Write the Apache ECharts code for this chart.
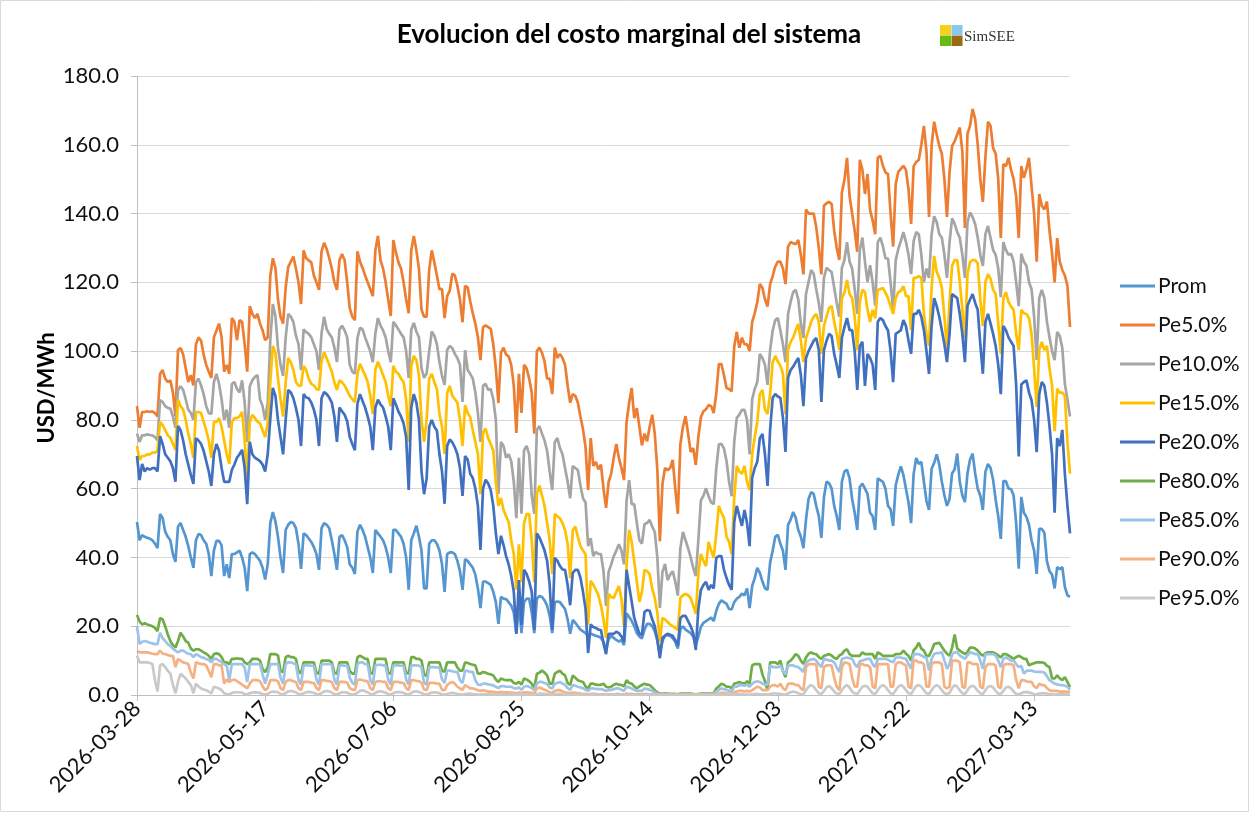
<!DOCTYPE html>
<html>
<head>
<meta charset="utf-8">
<title>Evolucion del costo marginal del sistema</title>
<script src="https://cdn.jsdelivr.net/npm/echarts@6/dist/echarts.min.js"></script>
<style>
  html, body { margin: 0; padding: 0; background: #fff; }
  #chart { width: 1250px; height: 813px; }
</style>
</head>
<body>
<div id="chart"></div>
<script>
// daily values, one row per week (Sat..Fri), starting 2026-03-28
var startDate = '2026-03-28';
var dayCount = 365;
var seriesNames = ['Prom', 'Pe5.0%', 'Pe10.0%', 'Pe15.0%', 'Pe20.0%', 'Pe80.0%', 'Pe85.0%', 'Pe90.0%', 'Pe95.0%'];
var seriesColors = ['#5596D0', '#ED7D31', '#A5A5A5', '#FFC000', '#4170C0', '#70AD47', '#9DC3E6', '#F4B183', '#C9C9C9'];
var yTicks = [0, 20, 40, 60, 80, 100, 120, 140, 160, 180];

var prom = [
  50.3, 45, 46.5, 46, 45.7, 45.5, 45,
  44, 42.7, 52.6, 51.5, 47.5, 46, 45,
  41, 38.7, 49, 50, 48, 46, 43.3,
  40, 37, 45, 46.8, 46.5, 45, 44,
  41, 34.6, 42, 44.8, 44.8, 43.5, 34.6,
  38, 34, 41, 41, 41.5, 42, 40,
  37, 30.2, 41, 41.5, 41, 40, 39,
  37, 33.6, 38, 50, 53.2, 50.5, 46,
  40, 35.5, 48, 49.5, 50.3, 50, 48.5,
  44, 36.7, 47, 46.5, 45.5, 44.5, 43,
  41, 36.4, 48.5, 50, 49.5, 48.5, 45,
  41, 36.4, 46, 46.5, 45, 43, 38,
  37, 35.2, 47.5, 49.5, 48, 46, 43,
  40, 35.5, 48, 47, 46, 45, 43,
  40, 35.5, 48, 48, 47, 46, 44,
  40, 30.6, 45, 47, 49.2, 46, 42,
  31, 31, 44, 45, 45, 44, 42,
  38, 30, 41, 41.5, 41.5, 41, 39,
  36, 30.6, 39.5, 39, 38, 37, 35,
  31, 25.3, 33, 33, 32.5, 32, 30,
  27, 20.7, 28.5, 28, 27.9, 27, 26,
  24, 17.8, 27, 18, 27, 28, 28,
  24, 18, 28, 28.8, 28.5, 27.5, 26,
  23, 18, 27, 27.2, 27, 26, 25,
  22, 17.8, 21.8, 21, 20, 19, 18.5,
  18, 17.4, 17.8, 17.5, 17.2, 17, 16.6,
  15.5, 13.1, 16.2, 17.2, 16.6, 16, 15.5,
  16, 14.5, 23.8, 22.7, 21.5, 20, 18,
  17, 16.5, 19, 20.7, 20.7, 20, 18.5,
  16, 12.2, 15.6, 17.4, 17.4, 17.2, 16.5,
  15.5, 13.5, 19.2, 20, 19, 18.5, 18,
  17, 14.5, 17, 19.8, 21, 21.5, 22,
  22.5, 21.5, 24.5, 26.5, 27.5, 27, 26.5,
  25, 24.9, 27, 28, 28.5, 29.5, 29,
  31, 25.3, 31.7, 34, 37, 35.5, 33,
  31, 30.6, 38.5, 42, 46, 46.6, 44,
  42, 36.4, 49.5, 51, 53.2, 51.5, 48,
  46, 42.7, 51, 57, 59, 58.5, 55,
  52, 45.7, 57.5, 62, 61.6, 60, 55,
  52, 48, 62, 65, 65.5, 63, 57,
  53, 48, 60.5, 61.5, 60, 58.5, 53,
  52, 48, 63, 62.5, 62, 60, 55,
  54, 49.2, 61, 64, 66.5, 64, 60,
  56, 50, 64.3, 68.9, 67.2, 67.8, 62,
  56.4, 53.8, 65.8, 67.5, 70, 67, 62,
  58, 55, 57, 64.5, 65.6, 70.2, 62,
  58, 56.1, 64.5, 68.5, 70.2, 64.5, 60,
  58, 53.8, 64.9, 67.2, 66, 62.6, 56.8,
  52, 45.4, 62.2, 62.2, 60, 59.9, 58,
  50, 36.7, 57.6, 53, 51.8, 49.5, 45,
  42, 35.2, 48.3, 48.3, 47.2, 38.9, 36,
  35, 31, 37.2, 36.6, 37.2, 31.4, 29,
  28.5
];

var pe5 = [
  84, 77.7, 82.3, 82.3, 82.5, 82.3, 82.5,
  82, 81, 93.4, 94.5, 92, 91, 91.5,
  88, 81.1, 100.3, 100.9, 99, 95, 91,
  93, 90, 102, 104, 103, 99, 96,
  94, 92.2, 104, 106, 108, 104, 94,
  96, 93.4, 109.6, 108.5, 103.2, 109, 108.5,
  102, 94, 113.1, 110.8, 109.6, 110.8, 108,
  106, 103.2, 104, 121.8, 127, 124.2, 115,
  110, 108, 118.5, 124.5, 126, 127.5, 124,
  120, 113.7, 129.3, 127, 126.4, 125.8, 122,
  120, 117.8, 129, 131.5, 129.7, 127, 124,
  120, 117.8, 126.5, 128.2, 126.5, 120, 112.5,
  110, 109, 129, 126, 124.2, 122, 120,
  118, 116, 129.3, 133.5, 126.4, 124, 120,
  115, 110.2, 132.3, 128.8, 125.8, 124, 120,
  115, 111, 129.3, 133.5, 129.3, 124, 112,
  110, 110, 123.7, 129.3, 125.8, 122, 118,
  118, 109.6, 116, 117.5, 122.5, 122, 119,
  115, 108.4, 119, 118.5, 114.5, 111, 108,
  104, 97.4, 107, 107.5, 107, 106.5, 102,
  95, 84.9, 99.5, 101, 99, 98.5, 96,
  90, 76.2, 93.4, 82, 96, 95, 92,
  88, 76, 100, 101, 99.5, 97, 92,
  92, 87.5, 101, 98, 99.2, 98, 96,
  90, 85, 87.5, 87, 85, 81, 77.3,
  72, 59.6, 74.7, 66.6, 67.8, 65.6, 67,
  60, 54.4, 62, 64.3, 69, 73, 69,
  66, 62.5, 79.4, 85, 89.3, 80.5, 83.4,
  78, 72.6, 76, 73.8, 78, 81.5, 76,
  65.5, 44.7, 61.4, 66, 65.4, 66, 68.4,
  60, 52.7, 73, 78, 81.1, 76, 70.7,
  71.8, 66.9, 75, 80.8, 82.5, 83.1, 84.3,
  84, 82, 87.8, 96.2, 96.2, 93, 89.3,
  89, 88.3, 101.3, 105.6, 101, 103.9, 102,
  102, 100, 108.5, 111, 114.3, 119.5, 118.4,
  115, 113, 119.5, 121.8, 124.6, 126, 126,
  124, 119.5, 130.4, 131.7, 131.4, 131.1, 132.3,
  128, 122.3, 141.2, 140, 140, 140, 136,
  130, 122.3, 142.3, 143, 143.4, 142.8, 135,
  130, 126.5, 146.1, 149.8, 156.2, 145.1, 140,
  135, 128.9, 155.6, 152.7, 145.7, 151.5, 141,
  138, 134, 156.2, 156.8, 153.9, 152, 151.5,
  140, 130.4, 148.6, 152.1, 153, 153.9, 152.7,
  147, 137, 153.8, 155, 155.6, 160, 165.5,
  158, 139, 159.7, 166.7, 163, 159.7, 157.4,
  150, 139, 152, 159.7, 161, 163, 165,
  158, 135.8, 163.2, 165.5, 170.4, 167.5, 160,
  150, 143.4, 156.4, 166.7, 165.5, 159.1, 157.4,
  150, 132.9, 154.4, 153.8, 156.2, 152.7, 150,
  145, 132.9, 153.8, 150.4, 153, 156.2, 148,
  140, 126, 145.7, 142.3, 141.2, 143.5, 135,
  128.5, 120, 132.9, 126, 123.6, 122, 119,
  107
];

var pe10 = [
  76, 73.6, 75.5, 75.5, 75.8, 75.6, 75.5,
  75, 74, 85.8, 85.2, 84, 83.5, 83.3,
  81, 77.7, 88.7, 89.8, 88.7, 86, 83,
  82, 80, 91, 92, 90, 87.5, 84,
  82, 81.7, 91, 93.4, 90.5, 86, 80,
  83, 77.7, 90.4, 91, 89, 88, 91.5,
  85, 73.6, 89.8, 91.5, 92.5, 93, 86,
  84, 80, 85, 103.2, 113.7, 110.2, 101,
  96, 92.8, 104, 110.8, 110, 108.5, 104.5,
  102, 94.5, 106.3, 105.5, 105, 104, 102,
  100, 94.5, 105.2, 110, 106.4, 105, 104,
  101, 96.8, 106.3, 107.4, 106, 104, 96,
  94, 93.4, 103.8, 106.8, 106.3, 104, 102,
  100, 96.8, 105.2, 109.6, 107.4, 106, 104,
  100, 96.8, 108.5, 107.5, 106.3, 105, 104,
  100, 92.2, 106.3, 108.2, 105.7, 104, 95,
  92.2, 93.5, 100, 105.7, 104.5, 102, 96.8,
  92.8, 90.2, 100.3, 101.5, 100.9, 99.2, 98,
  96, 85.2, 100.3, 94.5, 93.4, 92, 88,
  82, 73.6, 89.9, 90.5, 88.7, 89, 86,
  80, 58.4, 73.6, 72.4, 69, 70, 68,
  62, 51.4, 69, 52.7, 71.2, 72.4, 70,
  58, 52.7, 77.1, 78.2, 76, 74, 71,
  65, 59.6, 73.6, 74.7, 71.8, 70, 66,
  62, 57.2, 66.6, 66, 65.4, 61, 57.2,
  56, 43.3, 45.6, 40.4, 41.6, 41, 41,
  36, 25.9, 35.8, 38, 40.4, 42, 43.8,
  42, 38, 56.6, 62.5, 55.5, 55.5, 50,
  45, 44, 49.7, 50, 50.9, 49, 47.4,
  40, 25.3, 35.8, 38.1, 33.4, 35, 36,
  33, 28.9, 42.7, 47.4, 45, 42.7, 40,
  37, 34.6, 45, 56.6, 58, 60.1, 57.8,
  56, 55.5, 66, 72.9, 73, 71.7, 68,
  62, 57.8, 73.6, 80.6, 81.5, 82.9, 82.9,
  80, 70, 86, 89, 91, 99.2, 98,
  96, 90.2, 100.3, 106, 109, 109.6, 106,
  102, 96.8, 110.8, 114.3, 117.2, 117.8, 115,
  108, 103.8, 116.6, 120.1, 123.6, 122.5, 118,
  114, 108.5, 121.3, 124.2, 123.6, 123, 118.5,
  114, 110, 124.2, 126.5, 131.7, 126, 124,
  118, 110.8, 129.4, 133, 126, 120.1, 125,
  120, 113.2, 131.7, 133, 130.5, 127, 126.9,
  120, 112, 126.4, 129.7, 132, 134.6, 131.7,
  128, 122.4, 132, 134.6, 134, 128, 120,
  124, 121.3, 133.9, 139.2, 137.5, 134, 133,
  128, 121.3, 131.7, 138.6, 137, 134.6, 133,
  128, 121.3, 137.5, 140.3, 139, 136.9, 133,
  128, 124.8, 134, 136.4, 132.9, 129.4, 128,
  124, 115.7, 131.7, 129.4, 128, 128.3, 126,
  120, 113.1, 128.3, 126, 124.8, 120.1, 118,
  110, 97.4, 115.4, 117.8, 115.4, 108.5, 104,
  100, 97.4, 105.6, 104.4, 100.9, 90.4, 86,
  81
];

var pe15 = [
  72.4, 68.3, 69.5, 69.5, 70, 70, 70.5,
  70.5, 71, 79.4, 78.5, 77, 75.5, 74.8,
  73, 71.3, 85.8, 84, 83, 80, 76,
  73, 69, 82.3, 82.3, 82, 79.5, 77,
  74, 69, 79.4, 79.4, 80.5, 78, 74,
  70, 67.2, 79.4, 80.5, 80.5, 81, 82.3,
  74, 63.1, 79.4, 81.5, 80.5, 79.5, 79,
  77, 75, 79, 91, 101.5, 99.5, 92,
  86, 81, 91, 98, 96.8, 94.5, 91,
  90, 89.9, 95.7, 94.5, 92, 90.5, 90,
  89, 88.7, 97, 99.7, 97.9, 96, 94,
  91, 88.7, 91.5, 90.9, 90, 88.5, 87,
  86, 85.2, 93.4, 96.3, 94.6, 93, 91,
  87, 81.7, 94.6, 96.9, 95, 93, 91,
  87, 84, 95.7, 94, 93.4, 92, 91,
  86, 73.6, 95.7, 98.6, 97.4, 93, 80,
  73.6, 80, 92, 93.4, 91, 89, 81.7,
  78, 70.1, 87.8, 89.9, 87, 86, 85,
  80, 72.4, 84.3, 82, 80.8, 77, 73.6,
  70, 58.4, 76.2, 77.5, 74.7, 73, 71,
  62, 55, 57.3, 53.8, 52, 50.3, 45,
  41, 30.6, 43.8, 32.8, 50, 52.6, 52.6,
  45, 32.8, 58.4, 60.9, 58, 55, 50,
  45, 35.2, 52.6, 52, 51.4, 50, 47.9,
  44, 34, 47.9, 49, 46, 43.3, 42,
  40.9, 20.4, 33.2, 32.1, 30.6, 29, 26,
  22, 16.6, 29.4, 28.5, 28.2, 30, 31.7,
  28, 20, 37.5, 48, 44.5, 38.7, 33,
  27.1, 30, 36.4, 36, 35.2, 31, 28.2,
  24, 15.4, 22.4, 22, 21.2, 20.5, 20,
  19.5, 18.9, 28.2, 29, 29.4, 29, 28.2,
  26, 23.6, 35.2, 41, 39, 37.5, 44.5,
  42, 39.9, 47, 55, 53, 51.5, 46,
  44.5, 41, 57.3, 66.6, 65, 64.3, 66.6,
  62, 59.6, 70, 75, 79.4, 87.5, 88.7,
  83, 81.7, 87.5, 96.8, 98.6, 97, 95.7,
  93.4, 81.7, 100.3, 102.7, 104, 106.1, 107.9,
  103, 96.8, 103.8, 106, 108.5, 110, 110.8,
  108.5, 99.2, 107.3, 110, 112.6, 113.1, 108.5,
  105, 100.3, 115.4, 117, 120.7, 116.6, 115.4,
  110, 100.3, 114.3, 117.8, 117.2, 112, 108.5,
  112, 109.6, 117.8, 118, 118.4, 117, 115.4,
  113, 110.8, 115.4, 117.2, 117.5, 118.9, 116,
  116, 106.1, 121.3, 121.3, 121.8, 121.3, 110.8,
  105, 101.6, 118.4, 127.7, 123, 121.3, 118.4,
  110, 100.3, 114.3, 124.8, 126.5, 126.5, 120.1,
  112, 103.8, 122.4, 125.9, 126.5, 126.5, 125.5,
  115, 107.3, 120.1, 122.4, 121, 117.8, 116.6,
  108, 99.2, 115.4, 117.2, 114.3, 113, 112,
  105, 100.3, 112, 111, 110.8, 109.6, 105,
  95, 83.7, 100.3, 102.7, 100.3, 101.5, 95,
  90, 76.7, 89.1, 87.9, 87.9, 87, 73.6,
  64.4
];

var pe20 = [
  69.5, 62.5, 67.2, 65, 66, 65.5, 66,
  66, 65, 75.3, 73, 70, 69, 68,
  66, 62, 78.2, 77, 74, 70, 67,
  64, 61.4, 74.7, 74, 73, 71, 68,
  65, 60.8, 70, 73, 71, 66, 62,
  62, 62, 65.5, 67, 69, 70, 71.3,
  66, 55.5, 73.6, 70, 69, 68.5, 68,
  67, 65, 70, 80.2, 89.3, 87, 80,
  75, 70, 80, 88.7, 88, 86.3, 83.5,
  80, 72.4, 87.5, 86.5, 86.3, 85, 83,
  80, 72.4, 86.3, 88.1, 87.5, 86.5, 85,
  81, 73.6, 83.6, 82.5, 81.5, 79.6, 75,
  73, 71.2, 84.7, 87.5, 85.5, 83.6, 81,
  78, 71.2, 83.6, 85.9, 84.5, 83.6, 81,
  78, 71.2, 86.3, 84.5, 82.4, 81, 79,
  75, 59.6, 83.6, 87.5, 85, 80, 65,
  58.4, 63, 78, 80, 78, 76.9, 70,
  65, 55.6, 72.4, 74.3, 73.5, 72, 70,
  66, 57.9, 69.5, 68.5, 64.3, 63.1, 60,
  55, 42.2, 60, 62.6, 61.5, 59.6, 55,
  47, 41, 46.3, 43.6, 40.4, 38, 34.6,
  30, 17.8, 33.4, 20.4, 36.4, 35.2, 33,
  30, 19, 47, 45.8, 44, 42, 39,
  32, 19, 39.9, 39, 37.5, 36.5, 36.4,
  32, 26.1, 35.5, 36.4, 36.4, 34.1, 30,
  25, 12.2, 20.5, 19.8, 19.5, 19, 18.9,
  15, 11.9, 17.8, 17.8, 17.8, 18.4, 18,
  17, 15.4, 36.4, 31.7, 27.1, 22.4, 20,
  17.8, 17.5, 24.2, 24.7, 24.5, 22, 20,
  16, 10.7, 16.6, 17.2, 17.8, 17.5, 17.2,
  16, 14.3, 22.4, 23, 23, 21.5, 20,
  18, 13.1, 25, 30.6, 32, 32.9, 30.6,
  32, 31, 39.9, 40.4, 40.4, 36.4, 34,
  32, 30.6, 50.3, 55, 52, 49.2, 53.8,
  50, 43.3, 63.1, 66, 67.8, 74.7, 75.9,
  70, 60.8, 77.1, 86.4, 87.5, 86.8, 86.4,
  80.6, 70.7, 92.2, 94.5, 95.5, 96.8, 98,
  93, 84, 98, 100, 101.5, 103, 103.8,
  100.3, 85.2, 100.3, 103, 105, 104.4, 99.2,
  96, 92.2, 103.8, 107, 109.6, 106.1, 106.1,
  100, 88.7, 101.5, 102.7, 89.9, 99.2, 98,
  96, 88.7, 108.5, 109.6, 109, 107.3, 106,
  100, 91, 105, 105.5, 106.1, 109, 107.3,
  103, 99.2, 110.8, 110.8, 112, 110, 106.1,
  100, 93.4, 107.3, 115.4, 113.1, 110, 106.1,
  102, 96.8, 105, 116.6, 116, 115.4, 110.8,
  105, 96.8, 113.1, 115, 116.6, 114, 112,
  102, 93.4, 108.5, 110.8, 108, 105, 101.5,
  96, 87.5, 107.3, 106.1, 104, 102.7, 101.5,
  90, 69.4, 90.3, 91, 91.5, 88, 85.7,
  80, 70.6, 87.5, 91, 89.9, 85, 78.2,
  70, 53, 74.7, 72.4, 77.1, 64.3, 55,
  47
];

var pe80 = [
  23.3, 21.4, 20.5, 20.9, 20.5, 20.3, 20,
  19.5, 18.6, 22.4, 22, 20, 17.6, 15.7,
  14.5, 13.8, 15.7, 18.1, 17, 15.7, 15.2,
  13.5, 12.9, 13.3, 13.3, 12.9, 12.4, 12,
  11.4, 10.5, 11.9, 12.1, 11.9, 11, 9.5,
  9.5, 9, 10.5, 10.5, 10.7, 10.5, 10.5,
  9.5, 9, 9.5, 10.5, 10.5, 10.5, 10,
  7.5, 6.7, 8, 11.9, 11.9, 11.9, 11.5,
  7, 6.7, 11, 11.4, 11, 11, 10.5,
  7, 6.2, 9.5, 9.5, 9.5, 9.5, 9.5,
  6.5, 6.2, 10, 10, 10, 10, 9.5,
  6.5, 6.2, 9.5, 9.5, 9.5, 9.5, 7,
  6.2, 6.2, 11, 11.4, 11, 10.5, 10.5,
  6.5, 6.2, 10.5, 10.5, 10.5, 10.5, 10.5,
  6.5, 6.2, 9.5, 9.5, 9.5, 9.5, 9.5,
  6.5, 6.2, 11, 11, 10.5, 10.5, 10,
  6, 5.5, 9.5, 9.5, 9.5, 9.5, 9.5,
  7, 6.8, 9.5, 9.5, 9.5, 9.5, 8,
  7.1, 7.1, 9.5, 9.3, 9, 8.8, 8.6,
  6.2, 6.2, 6.7, 6.5, 6.2, 6, 5.7,
  4.5, 3.8, 4.8, 4.5, 4.3, 4.3, 4.3,
  3.5, 3.3, 3.8, 3, 4.8, 4.5, 4,
  3.3, 1.9, 6.2, 6.5, 7.1, 6.5, 5.7,
  3.3, 3.3, 6.2, 6.7, 7.1, 6.2, 5.7,
  3.5, 2.9, 5.7, 5, 4.3, 4, 3.8,
  2.5, 1.9, 3.3, 3.3, 3, 2.9, 3,
  3.3, 2.4, 2.2, 2.4, 3, 3.3, 3,
  2.9, 2.5, 4.3, 3.5, 3.3, 2.5, 1.9,
  2.5, 2.9, 3.3, 3, 2.9, 2.2, 1.4,
  0.7, 0.4, 0.4, 0.5, 0.4, 0.3, 0.3,
  0.3, 0.2, 0.4, 0.4, 0.5, 0.4, 0.4,
  0.3, 0.2, 0.3, 0.4, 0.4, 0.5, 0.4,
  0.4, 0.5, 1.9, 2.5, 3.3, 3, 2.4,
  2.4, 1.9, 3.3, 3.5, 3.8, 3.5, 3.3,
  4, 3.3, 8.6, 9, 9, 9, 6,
  4, 1.4, 9.5, 9.5, 9.5, 9, 10,
  7, 5.2, 9.5, 10, 10.9, 11.9, 11.4,
  10, 9, 10.9, 12, 12.4, 12, 11.9,
  11, 10.5, 11.4, 11.6, 11.9, 11.5, 10.8,
  10.5, 11.5, 11.9, 12.9, 13.3, 11.9, 11.4,
  11.4, 11.4, 11.4, 12.4, 11.9, 11.9, 11.9,
  11.9, 10.5, 12.4, 12, 11.4, 11.4, 11.4,
  11.4, 11.4, 11.9, 11.9, 12, 12.9, 12,
  11.4, 10, 13, 13.8, 15.2, 13.5, 12.9,
  11.4, 11.4, 12.9, 14.8, 15, 15.2, 14,
  12.9, 12, 11.4, 13.8, 17.6, 13.5, 12.9,
  12.4, 11.9, 12.5, 13.8, 13.8, 13.5, 12.9,
  12, 11.4, 12.2, 12.4, 12.4, 12.4, 12,
  11.5, 10.9, 11.9, 11.9, 11.5, 11, 10.5,
  11, 11.4, 11, 10.5, 10.5, 8.6, 9,
  9.2, 9.5, 9.5, 9.5, 9.3, 8.5, 8.1,
  4.8, 4.8, 5.7, 4.8, 4.3, 5.2, 3.8,
  2.2
];

var pe85 = [
  20, 14.8, 15.5, 15.7, 15.5, 15.2, 15,
  14.8, 14.8, 18.1, 16.5, 15.7, 14.8, 14.3,
  13.5, 12.9, 12.4, 12.9, 12.9, 12.4, 12,
  11.9, 11, 11.9, 11.5, 11, 10.8, 10.5,
  10.2, 9.5, 10.5, 10.5, 10, 9.5, 9,
  8.5, 4.3, 9, 9, 9, 9, 9,
  8, 3.8, 9, 9, 9, 9, 9,
  6, 3.3, 6, 9, 9, 9, 9,
  5, 3.3, 9, 9.5, 9.5, 9.2, 9,
  4.5, 3, 8.6, 8.6, 8.6, 8.5, 8.5,
  4.5, 3, 9, 9, 9, 9, 8.8,
  4.5, 3, 8.6, 8.6, 8.5, 8.5, 5,
  3.5, 3, 9, 9.5, 9.5, 9, 9,
  4.5, 3, 8.6, 8.8, 8.8, 8.6, 8.6,
  4.5, 3, 8.6, 8.6, 8.6, 8.5, 8.5,
  4.5, 3, 8.6, 8.6, 8.6, 8.5, 8.1,
  3.5, 3, 8.1, 8.1, 8.1, 8, 8,
  4.5, 3.5, 7.1, 7.1, 6.9, 6.7, 6.7,
  4.3, 3.5, 7.1, 7, 6.7, 6.7, 4.3,
  3, 2.9, 3.3, 3.3, 3.1, 3, 2.8,
  2.4, 2, 2.6, 2.6, 2.4, 2.4, 2.4,
  2, 1.9, 2.2, 1.5, 2.4, 2.6, 2.4,
  2, 1.5, 3.3, 3.8, 3.8, 3.5, 3.2,
  2.2, 1.9, 3.3, 3.5, 3.8, 3.3, 3,
  2, 1.5, 2.9, 2.7, 2.4, 2.2, 2,
  1.5, 1.2, 1.9, 1.9, 1.8, 1.7, 1.7,
  1.5, 1.2, 1.4, 1.5, 1.7, 1.9, 1.9,
  1.5, 1.2, 2.4, 2.2, 1.9, 1.5, 1.2,
  1.2, 1.2, 1.9, 1.7, 1.5, 1.2, 0.8,
  0.4, 0.3, 0.3, 0.3, 0.3, 0.2, 0.2,
  0.2, 0.1, 0.2, 0.3, 0.3, 0.3, 0.2,
  0.2, 0.1, 0.2, 0.2, 0.3, 0.3, 0.3,
  0.2, 0.3, 1, 1.5, 1.9, 1.7, 1.5,
  1.2, 1, 2.4, 2.4, 2.9, 2.9, 2.7,
  3, 2.4, 3.3, 3.8, 4, 3.8, 3.3,
  3, 3, 8.6, 8.1, 8.1, 8, 8.6,
  7, 6, 8.6, 8.6, 8.6, 8.3, 8.1,
  7.5, 6.7, 9.5, 10, 10.3, 10.5, 10,
  9, 8.1, 10.5, 10.3, 10, 10, 9.5,
  8, 6.7, 10.5, 10.7, 10.9, 10.7, 10.5,
  9, 8.1, 9.8, 10, 10.3, 10.5, 10.5,
  9, 8.1, 10.5, 10.5, 10.5, 10.5, 10.3,
  9.8, 9.5, 10.9, 10.9, 10.9, 10.7, 10.5,
  9, 7.6, 11.9, 11.9, 11.9, 11.5, 11,
  10.9, 7.1, 10.5, 11.9, 12.2, 12.2, 12.4,
  10, 7.6, 9, 11.9, 12.4, 12.4, 11.5,
  11, 10.5, 11.5, 12.4, 12.2, 11.9, 11.9,
  10, 7.6, 11.9, 11.9, 11.9, 11.9, 11.5,
  10, 8.1, 10.5, 10.9, 10.5, 10, 10,
  9, 8.1, 8.5, 6.2, 7, 7.1, 7.1,
  6.8, 6.7, 6.7, 6.7, 6.5, 5.5, 4.3,
  3.8, 3.3, 3.1, 2.9, 2.9, 2.7, 2.4,
  1.5
];

var pe90 = [
  12.9, 12.4, 12.4, 12.4, 12.4, 12.2, 12,
  11.9, 11.9, 12.9, 12, 11.9, 11.6, 11.4,
  11.4, 8.1, 10.5, 10, 9.5, 9.3, 9,
  6.5, 4.8, 9.5, 9.2, 9, 9, 8.6,
  7, 5.2, 9, 9, 8.6, 8.6, 3.3,
  4.5, 3.8, 4.3, 4.5, 4, 3.5, 3,
  2.5, 1.9, 3.3, 4.3, 4.3, 4.3, 4,
  2.5, 1.4, 2, 4.3, 4.3, 4.3, 4,
  2, 1.4, 3.8, 4.3, 4.3, 4, 3.8,
  2, 1.4, 3.8, 3.8, 3.8, 3.6, 3.5,
  2, 1.4, 4.3, 4.3, 4.1, 4, 3.8,
  2, 1.4, 3.8, 3.8, 3.8, 3.6, 2,
  1.6, 1.4, 4.3, 4.5, 4.3, 4.1, 4,
  2, 1.4, 3.8, 4, 4, 3.8, 3.8,
  2, 1.4, 3.8, 3.8, 3.8, 3.6, 3.5,
  2, 1.4, 4.3, 4.3, 4.1, 4, 3.5,
  1.6, 1.4, 3.5, 3.5, 3.5, 3.3, 3.3,
  1.5, 1.4, 2.9, 3.5, 3.8, 3.3, 2.4,
  1.9, 1.5, 2.9, 2.4, 1.9, 1.9, 1.7,
  1.4, 1.2, 1.4, 1.2, 1, 1, 0.9,
  0.8, 0.7, 0.9, 0.8, 0.8, 0.7, 0.7,
  0.6, 0.5, 0.7, 0.5, 0.8, 0.8, 0.7,
  0.6, 0.5, 1.9, 2.2, 1.9, 1.5, 1.2,
  0.8, 0.6, 1.2, 1.4, 1.4, 1, 0.8,
  0.6, 0.5, 0.7, 0.6, 0.5, 0.4, 0.3,
  0.3, 0.2, 0.3, 0.3, 0.3, 0.2, 0.2,
  0.2, 0.1, 0.2, 0.2, 0.2, 0.3, 0.3,
  0.2, 0.1, 0.4, 0.3, 0.3, 0.2, 0.2,
  0.2, 0.2, 0.3, 0.3, 0.2, 0.2, 0.1,
  0.1, 0.1, 0.1, 0.1, 0.1, 0.1, 0.1,
  0.1, 0.1, 0.1, 0.1, 0.1, 0.1, 0.1,
  0.1, 0.1, 0.1, 0.1, 0.1, 0.1, 0.1,
  0.1, 0.1, 0.3, 0.5, 0.6, 0.6, 0.5,
  0.4, 0.3, 0.8, 1, 1.2, 1.2, 1,
  1.2, 1, 1.4, 1.9, 2.4, 2.2, 1.4,
  1.4, 1.4, 2.4, 2.9, 2.9, 2.4, 3.3,
  1.9, 1.4, 3.3, 3.3, 3.3, 2.9, 2.9,
  1.9, 1.4, 8.1, 9, 9, 9, 9,
  2.4, 1.9, 8.1, 8.6, 8.6, 8.6, 5,
  2.4, 1.4, 8.1, 9.5, 9.3, 9, 5,
  2.4, 2.4, 9, 9, 8.6, 8.6, 8.1,
  2.4, 1.9, 9, 9, 9, 9, 9,
  2.4, 2.4, 9, 9.5, 9.5, 9, 8.6,
  2.4, 1.9, 10, 10, 9.5, 9.5, 9,
  2.4, 2.4, 9, 9.5, 9.5, 9.5, 9,
  2.4, 1.9, 2.4, 10, 10, 10, 9.5,
  2.4, 2, 9.5, 9.5, 9, 9, 9,
  2.4, 1.9, 8.1, 9, 9, 9, 8.6,
  2.4, 1.9, 8.6, 9, 9, 9, 8.6,
  4.3, 1.9, 4.3, 4.3, 4, 3.8, 3.8,
  2.5, 2, 3.3, 2.9, 2.9, 2, 1.4,
  1.2, 1.2, 1.2, 1, 1, 1, 1,
  0.8
];

var pe95 = [
  11.4, 9.5, 9.5, 9.5, 9.5, 9.3, 9,
  4.3, 1, 8.6, 9, 8.1, 7.1, 6.2,
  3, 0.5, 3.8, 6.2, 5.5, 4.8, 3.8,
  2.9, 0.5, 3.3, 2.5, 1.9, 1.6, 1.4,
  1, 0.5, 2.4, 2.2, 1.9, 1.4, 0.5,
  0.3, 0.2, 0.6, 0.8, 0.8, 0.8, 0.7,
  0.3, 0.2, 0.5, 0.7, 0.8, 0.7, 0.6,
  0.3, 0.2, 0.3, 0.8, 1, 0.9, 0.8,
  0.3, 0.2, 0.6, 1, 1.2, 1, 0.8,
  0.3, 0.2, 0.5, 0.8, 0.9, 0.8, 0.6,
  0.3, 0.2, 0.6, 1, 1.2, 1, 0.7,
  0.3, 0.2, 0.5, 0.8, 0.8, 0.7, 0.3,
  0.2, 0.2, 0.7, 1.2, 1.4, 1.1, 0.8,
  0.3, 0.2, 0.6, 1, 1.1, 0.9, 0.7,
  0.3, 0.2, 0.5, 0.8, 0.9, 0.8, 0.6,
  0.3, 0.2, 0.6, 1, 1.1, 0.9, 0.6,
  0.2, 0.2, 0.4, 0.7, 0.8, 0.7, 0.5,
  0.2, 0.1, 0.3, 0.5, 0.6, 0.5, 0.3,
  0.2, 0.1, 0.3, 0.4, 0.4, 0.3, 0.2,
  0.1, 0.1, 0.2, 0.2, 0.2, 0.2, 0.1,
  0.1, 0.1, 0.1, 0.2, 0.2, 0.1, 0.1,
  0.1, 0.1, 0.1, 0.1, 0.2, 0.2, 0.1,
  0.1, 0.1, 0.3, 0.4, 0.4, 0.3, 0.2,
  0.1, 0.1, 0.2, 0.3, 0.3, 0.2, 0.1,
  0.1, 0.1, 0.1, 0.1, 0.1, 0.1, 0.1,
  0.1, 0, 0.1, 0.1, 0.1, 0.1, 0,
  0, 0, 0.1, 0.1, 0.1, 0.1, 0,
  0, 0, 0.1, 0.1, 0.1, 0, 0,
  0, 0, 0.1, 0.1, 0.1, 0, 0,
  0, 0, 0, 0, 0, 0, 0,
  0, 0, 0, 0, 0, 0, 0,
  0, 0, 0, 0, 0, 0, 0,
  0, 0, 0.1, 0.1, 0.1, 0.1, 0.1,
  0.1, 0.1, 0.1, 0.2, 0.2, 0.2, 0.1,
  0.1, 0.1, 0.2, 0.3, 0.3, 0.2, 0.2,
  0.2, 0.1, 0.3, 0.4, 0.5, 0.4, 0.3,
  0.2, 0.1, 0.5, 0.8, 1, 0.8, 0.5,
  0.3, 0.2, 1.4, 2.4, 2.9, 2.4, 1.4,
  0.5, 0.3, 1.2, 2.2, 2.6, 2, 1,
  0.4, 0.3, 1.4, 2.4, 2.9, 2.2, 1,
  0.5, 0.3, 1.4, 2.4, 2.7, 2.4, 1.4,
  0.5, 0.3, 1.4, 2.4, 2.9, 2.4, 1.4,
  0.5, 0.3, 1.4, 2.4, 2.9, 2.4, 1.4,
  0.5, 0.3, 1.5, 2.6, 2.9, 2.4, 1.4,
  0.5, 0.3, 1.4, 2.4, 2.9, 2.4, 1.4,
  0.5, 0.3, 0.6, 2, 2.9, 2.4, 1.4,
  0.5, 0.3, 1.4, 2.4, 2.7, 2.2, 1.2,
  0.5, 0.3, 1.4, 2.4, 2.6, 2.2, 1.2,
  0.4, 0.3, 1.2, 2.2, 2.4, 1.9, 1,
  0.3, 0.2, 0.5, 0.8, 0.9, 0.7, 0.5,
  0.3, 0.2, 0.4, 0.5, 0.5, 0.4, 0.3,
  0.2, 0.1, 0.2, 0.2, 0.2, 0.2, 0.2,
  0.1
];

var seriesData = [prom, pe5, pe10, pe15, pe20, pe80, pe85, pe90, pe95];

// date labels for the category axis
function pad(n) { return (n < 10 ? '0' : '') + n; }
var dates = [];
var t0 = Date.UTC(2026, 2, 28);
for (var i = 0; i < dayCount; i++) {
  var d = new Date(t0 + i * 86400000);
  dates.push(d.getUTCFullYear() + '-' + pad(d.getUTCMonth() + 1) + '-' + pad(d.getUTCDate()));
}

var font = 'Lato, "Noto Sans", sans-serif';

var series = [];
for (var s = 0; s < seriesNames.length; s++) {
  series.push({
    name: seriesNames[s],
    type: 'line',
    data: seriesData[s],
    symbol: 'none',
    color: seriesColors[s],
    lineStyle: { width: 2.7, color: seriesColors[s] },
    z: 2 + s
  });
}

var chart = echarts.init(document.getElementById('chart'), null, { renderer: 'canvas' });
chart.setOption({
  animation: false,
  backgroundColor: '#ffffff',
  grid: { left: 137, right: 180, top: 76, bottom: 118, containLabel: false },
  legend: {
    orient: 'vertical',
    left: 1115,
    top: 270,
    icon: 'rect',
    itemWidth: 35,
    itemHeight: 3,
    itemGap: 17,
    data: seriesNames,
    textStyle: { fontFamily: font, fontSize: 21, color: '#111', lineHeight: 22, padding: [0, 0, 0, -2] }
  },
  xAxis: {
    type: 'category',
    data: dates,
    boundaryGap: false,
    axisLine: { lineStyle: { color: '#bfbfbf', width: 1 } },
    axisTick: { show: true, interval: 49, length: 6, lineStyle: { color: '#bfbfbf' } },
    axisLabel: {
      interval: 49,
      rotate: 45,
      margin: 10,
      fontFamily: font,
      fontSize: 22,
      color: '#111'
    },
    splitLine: { show: false }
  },
  yAxis: {
    type: 'value',
    min: yTicks[0],
    max: yTicks[yTicks.length - 1],
    interval: 20,
    axisLine: { show: true, lineStyle: { color: '#bfbfbf', width: 1 } },
    axisTick: { show: true, length: 6, lineStyle: { color: '#bfbfbf' } },
    axisLabel: {
      margin: 18,
      fontFamily: font,
      fontSize: 22,
      color: '#111',
      formatter: function (v) { return v.toFixed(1); }
    },
    splitLine: { lineStyle: { color: '#d9d9d9', width: 1 } }
  },
  graphic: [
    {
      type: 'rect', silent: true,
      shape: { x: 0.5, y: 0.5, width: 1248, height: 811 },
      style: { fill: 'none', stroke: '#d9d9d9', lineWidth: 1 }
    },
    {
      type: 'text', x: 629, y: 35,
      style: {
        text: 'Evolucion del costo marginal del sistema',
        font: 'bold 26px ' + font,
        fill: '#000',
        textAlign: 'center',
        textVerticalAlign: 'middle'
      }
    },
    {
      type: 'text', x: 47, y: 388, rotation: Math.PI / 2,
      style: {
        text: 'USD/MWh',
        font: 'bold 22px ' + font,
        fill: '#000',
        textAlign: 'center',
        textVerticalAlign: 'middle'
      }
    },
    // SimSEE logo
    { type: 'rect', shape: { x: 940, y: 25, width: 11, height: 10 }, style: { fill: '#F7D117' } },
    { type: 'rect', shape: { x: 951.5, y: 25, width: 11, height: 10 }, style: { fill: '#86C8F0' } },
    { type: 'rect', shape: { x: 940, y: 35.5, width: 11, height: 10.5 }, style: { fill: '#66BB11' } },
    { type: 'rect', shape: { x: 951.5, y: 35.5, width: 11, height: 10.5 }, style: { fill: '#9A6A10' } },
    {
      type: 'text', x: 964, y: 37,
      style: {
        text: 'SimSEE',
        font: '15px "Liberation Serif", "DejaVu Serif", serif',
        fill: '#333',
        textVerticalAlign: 'middle'
      }
    }
  ],
  series: series
});
</script>
</body>
</html>
